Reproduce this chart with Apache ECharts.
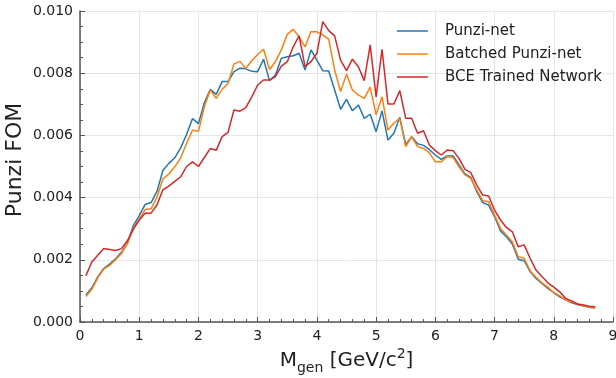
<!DOCTYPE html>
<html>
<head>
<meta charset="utf-8">
<script src="https://cdn.jsdelivr.net/npm/echarts@6/dist/echarts.min.js"></script>
<style>
  html, body { margin: 0; padding: 0; background: #fff; }
  #chart { width: 616px; height: 378px; }
</style>
</head>
<body>
<div id="chart"></div>
<script>
// generated mass points (GeV/c^2)
const massPoints = [
  0.1, 0.2, 0.3, 0.4, 0.5, 0.6, 0.7, 0.8, 0.9, 1.0,
  1.1, 1.2, 1.3, 1.4, 1.5, 1.6, 1.7, 1.8, 1.9, 2.0,
  2.1, 2.2, 2.3, 2.4, 2.5, 2.6, 2.7, 2.8, 2.9, 3.0,
  3.1, 3.2, 3.3, 3.4, 3.5, 3.6, 3.7, 3.8, 3.9, 4.0,
  4.1, 4.2, 4.3, 4.4, 4.5, 4.6, 4.7, 4.8, 4.9, 5.0,
  5.1, 5.2, 5.3, 5.4, 5.5, 5.6, 5.7, 5.8, 5.9, 6.0,
  6.1, 6.2, 6.3, 6.4, 6.5, 6.6, 6.7, 6.8, 6.9, 7.0,
  7.1, 7.2, 7.3, 7.4, 7.5, 7.6, 7.7, 7.8, 7.9, 8.0,
  8.1, 8.2, 8.3, 8.4, 8.5, 8.6, 8.7
]

// Punzi FOM per network
const punziNet = [
  0.00087, 0.00110, 0.00145, 0.00172, 0.00186, 0.00203, 0.00224, 0.00253, 0.00310, 0.00342,
  0.00378, 0.00384, 0.00420, 0.00487, 0.00510, 0.00528, 0.00560, 0.00603, 0.00654, 0.00638,
  0.00705, 0.00748, 0.00732, 0.00773, 0.00773, 0.00805, 0.00816, 0.00814, 0.00806, 0.00805,
  0.00845, 0.00776, 0.00794, 0.00848, 0.00853, 0.00856, 0.00864, 0.00810, 0.00875, 0.00842,
  0.00808, 0.00807, 0.00746, 0.00684, 0.00716, 0.00679, 0.00698, 0.00655, 0.00668, 0.00612,
  0.00679, 0.00585, 0.00607, 0.00658, 0.00570, 0.00596, 0.00573, 0.00568, 0.00554, 0.00537,
  0.00523, 0.00534, 0.00534, 0.00505, 0.00476, 0.00465, 0.00419, 0.00384, 0.00376, 0.00339,
  0.00293, 0.00274, 0.00251, 0.00202, 0.00197, 0.00162, 0.00140, 0.00124, 0.00108, 0.00094,
  0.00081, 0.00071, 0.00062, 0.00056, 0.00051, 0.00047, 0.00046
]

const batchedPunziNet = [
  0.00082, 0.00105, 0.00142, 0.00170, 0.00182, 0.00200, 0.00220, 0.00252, 0.00302, 0.00330,
  0.00362, 0.00364, 0.00402, 0.00460, 0.00476, 0.00499, 0.00528, 0.00575, 0.00617, 0.00613,
  0.00692, 0.00746, 0.00719, 0.00748, 0.00767, 0.00830, 0.00838, 0.00815, 0.00840, 0.00860,
  0.00877, 0.00812, 0.00837, 0.00875, 0.00925, 0.00941, 0.00917, 0.00885, 0.00933, 0.00933,
  0.00923, 0.00909, 0.00810, 0.00741, 0.00797, 0.00746, 0.00730, 0.00719, 0.00755, 0.00666,
  0.00724, 0.00617, 0.00639, 0.00655, 0.00564, 0.00595, 0.00564, 0.00558, 0.00544, 0.00515,
  0.00515, 0.00532, 0.00529, 0.00499, 0.00473, 0.00462, 0.00424, 0.00390, 0.00387, 0.00344,
  0.00301, 0.00280, 0.00258, 0.00210, 0.00205, 0.00165, 0.00144, 0.00126, 0.00112, 0.00094,
  0.00084, 0.00071, 0.00064, 0.00058, 0.00052, 0.00048, 0.00046
]

const bceNetwork = [
  0.00149, 0.00193, 0.00215, 0.00236, 0.00233, 0.00230, 0.00236, 0.00261, 0.00298, 0.00328,
  0.00350, 0.00350, 0.00376, 0.00425, 0.00437, 0.00452, 0.00467, 0.00500, 0.00515, 0.00500,
  0.00529, 0.00558, 0.00552, 0.00596, 0.00610, 0.00682, 0.00678, 0.00689, 0.00724, 0.00762,
  0.00778, 0.00778, 0.00789, 0.00823, 0.00837, 0.00885, 0.00920, 0.00821, 0.00837, 0.00864,
  0.00966, 0.00937, 0.00920, 0.00842, 0.00808, 0.00845, 0.00821, 0.00776, 0.00891, 0.00724,
  0.00877, 0.00701, 0.00701, 0.00744, 0.00655, 0.00655, 0.00607, 0.00615, 0.00569, 0.00551,
  0.00537, 0.00553, 0.00551, 0.00526, 0.00491, 0.00480, 0.00440, 0.00408, 0.00405, 0.00360,
  0.00328, 0.00304, 0.00290, 0.00242, 0.00248, 0.00205, 0.00167, 0.00146, 0.00126, 0.00112,
  0.00097, 0.00076, 0.00068, 0.00058, 0.00055, 0.00051, 0.00049
]

const seriesNames = ['Punzi-net', 'Batched Punzi-net', 'BCE Trained Network']
const seriesColors = ['#1f77b4', '#ff7f0e', '#d62728']

const FONT = 'DejaVu Sans'
const AXIS_COLOR = '#555555'
const GRID_COLOR = '#e5e5e5'

const toPairs = (ys) => massPoints.map((x, i) => [x, ys[i]])

const makeSeries = (name, ys, color) => ({
  name,
  type: 'line',
  data: toPairs(ys),
  symbol: 'none',
  lineStyle: { color, width: 1.5 },
  itemStyle: { color },
  animation: false
})

const chart = echarts.init(document.getElementById('chart'))

chart.setOption({
  backgroundColor: '#ffffff',
  animation: false,
  grid: { left: 80, right: 3, top: 11, bottom: 56, containLabel: false, outerBoundsMode: 'none' },
  legend: {
    orient: 'vertical',
    left: 397,
    top: 22,
    padding: 0,
    icon: 'rect',
    itemWidth: 31,
    itemHeight: 1.5,
    itemGap: 5,
    textStyle: { fontFamily: FONT, fontSize: 15, color: '#222222', lineHeight: 18, padding: [0, 0, 0, 12] },
    data: seriesNames
  },
  xAxis: {
    type: 'value',
    min: 0,
    max: 9,
    interval: 1,
    name: '{m|M}{s|gen}{m| [GeV/c}{p|2}{m|]}',
    nameLocation: 'middle',
    nameGap: 25,
    nameMoveOverlap: false,
    nameTextStyle: {
      fontFamily: FONT,
      color: '#222222',
      rich: {
        m: { fontFamily: FONT, fontSize: 20, color: '#222222', lineHeight: 28 },
        s: { fontFamily: FONT, fontSize: 14, color: '#222222', verticalAlign: 'bottom', lineHeight: 16 },
        p: { fontFamily: FONT, fontSize: 14, color: '#222222', verticalAlign: 'top', lineHeight: 12 }
      }
    },
    axisLine: { show: true, lineStyle: { color: AXIS_COLOR, width: 1.5 } },
    axisTick: { show: true, inside: true, length: 5, lineStyle: { color: AXIS_COLOR, width: 1 } },
    minorTick: { show: true, splitNumber: 5, length: 3, lineStyle: { color: AXIS_COLOR, width: 1 } },
    axisLabel: { fontFamily: FONT, fontSize: 14, color: '#222222', margin: 7 },
    splitLine: { show: true, lineStyle: { color: GRID_COLOR, width: 1 } }
  },
  yAxis: {
    type: 'value',
    min: 0,
    max: 0.010,
    interval: 0.002,
    name: 'Punzi FOM',
    nameLocation: 'middle',
    nameGap: 54,
    nameMoveOverlap: false,
    nameTextStyle: { fontFamily: FONT, fontSize: 22, color: '#222222', padding: [0, 0, 0, 13] },
    axisLine: { show: true, lineStyle: { color: AXIS_COLOR, width: 1.5 } },
    axisTick: { show: true, inside: true, length: 5, lineStyle: { color: AXIS_COLOR, width: 1 } },
    minorTick: { show: true, splitNumber: 4, length: 3, lineStyle: { color: AXIS_COLOR, width: 1 } },
    axisLabel: {
      fontFamily: FONT,
      fontSize: 14,
      color: '#222222',
      margin: 7,
      formatter: (v) => v.toFixed(3)
    },
    splitLine: { show: true, lineStyle: { color: GRID_COLOR, width: 1 } }
  },
  series: [
    makeSeries(seriesNames[0], punziNet, seriesColors[0]),
    makeSeries(seriesNames[1], batchedPunziNet, seriesColors[1]),
    makeSeries(seriesNames[2], bceNetwork, seriesColors[2])
  ]
})
</script>
</body>
</html>
